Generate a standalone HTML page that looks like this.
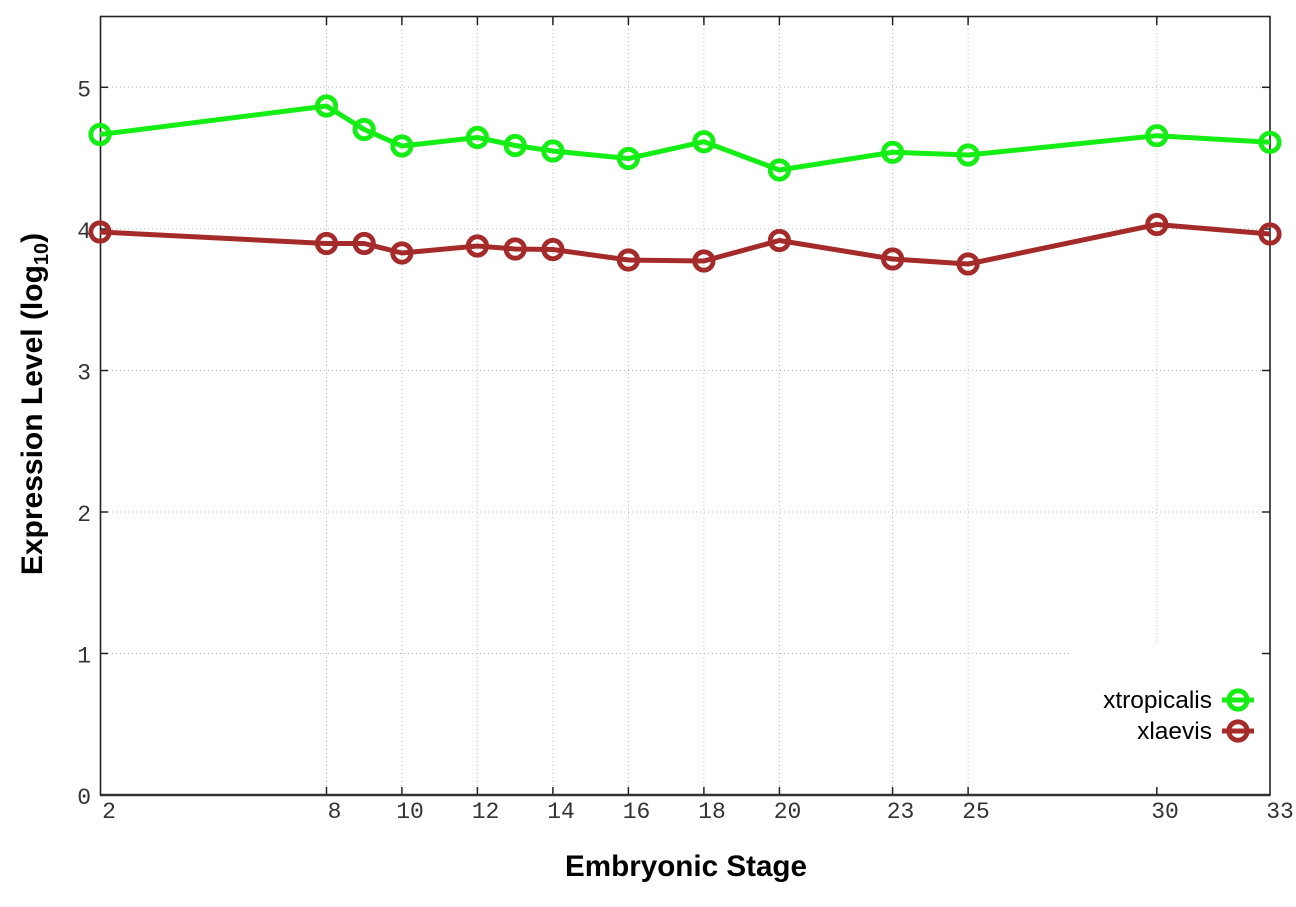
<!DOCTYPE html>
<html><head><meta charset="utf-8"><style>
html,body{margin:0;padding:0;background:#fff;}
svg{display:block;}
</style></head><body>
<svg width="1296" height="907" viewBox="0 0 1296 907" xmlns="http://www.w3.org/2000/svg">
<rect width="1296" height="907" fill="#fff"/>
<g stroke="#b8b8b8" stroke-width="1" stroke-dasharray="1,3" fill="none">
<line x1="100" y1="87.3" x2="1270" y2="87.3"/>
<line x1="100" y1="229" x2="1270" y2="229"/>
<line x1="100" y1="370.5" x2="1270" y2="370.5"/>
<line x1="100" y1="512" x2="1270" y2="512"/>
<line x1="100" y1="653.5" x2="1270" y2="653.5"/>
<line x1="326.5" y1="17" x2="326.5" y2="795"/>
<line x1="401.9" y1="17" x2="401.9" y2="795"/>
<line x1="477.4" y1="17" x2="477.4" y2="795"/>
<line x1="552.9" y1="17" x2="552.9" y2="795"/>
<line x1="628.4" y1="17" x2="628.4" y2="795"/>
<line x1="703.9" y1="17" x2="703.9" y2="795"/>
<line x1="779.4" y1="17" x2="779.4" y2="795"/>
<line x1="892.6" y1="17" x2="892.6" y2="795"/>
<line x1="968.1" y1="17" x2="968.1" y2="795"/>
<line x1="1156.8" y1="17" x2="1156.8" y2="795"/>
</g>
<rect x="1071" y="642" width="198" height="152" fill="#fff"/>
<g stroke="#222" stroke-width="1.5">
<line x1="100" y1="87.3" x2="108" y2="87.3"/><line x1="1262" y1="87.3" x2="1270" y2="87.3"/>
<line x1="100" y1="229" x2="108" y2="229"/><line x1="1262" y1="229" x2="1270" y2="229"/>
<line x1="100" y1="370.5" x2="108" y2="370.5"/><line x1="1262" y1="370.5" x2="1270" y2="370.5"/>
<line x1="100" y1="512" x2="108" y2="512"/><line x1="1262" y1="512" x2="1270" y2="512"/>
<line x1="100" y1="653.5" x2="108" y2="653.5"/><line x1="1262" y1="653.5" x2="1270" y2="653.5"/>
<line x1="326.5" y1="795" x2="326.5" y2="787"/><line x1="326.5" y1="17" x2="326.5" y2="25"/>
<line x1="401.9" y1="795" x2="401.9" y2="787"/><line x1="401.9" y1="17" x2="401.9" y2="25"/>
<line x1="477.4" y1="795" x2="477.4" y2="787"/><line x1="477.4" y1="17" x2="477.4" y2="25"/>
<line x1="552.9" y1="795" x2="552.9" y2="787"/><line x1="552.9" y1="17" x2="552.9" y2="25"/>
<line x1="628.4" y1="795" x2="628.4" y2="787"/><line x1="628.4" y1="17" x2="628.4" y2="25"/>
<line x1="703.9" y1="795" x2="703.9" y2="787"/><line x1="703.9" y1="17" x2="703.9" y2="25"/>
<line x1="779.4" y1="795" x2="779.4" y2="787"/><line x1="779.4" y1="17" x2="779.4" y2="25"/>
<line x1="892.6" y1="795" x2="892.6" y2="787"/><line x1="892.6" y1="17" x2="892.6" y2="25"/>
<line x1="968.1" y1="795" x2="968.1" y2="787"/><line x1="968.1" y1="17" x2="968.1" y2="25"/>
<line x1="1156.8" y1="795" x2="1156.8" y2="787"/><line x1="1156.8" y1="17" x2="1156.8" y2="25"/>
</g>
<rect x="100.5" y="16.5" width="1169.5" height="778.5" fill="none" stroke="#222" stroke-width="1.6"/>
<line x1="100" y1="795" x2="1270" y2="795" stroke="#333" stroke-width="2.5"/>
<g font-family="'Liberation Mono', monospace" font-size="23" fill="#333" text-anchor="end">
<text x="91" y="96.5">5</text>
<text x="91" y="238">4</text>
<text x="91" y="379.5">3</text>
<text x="91" y="521">2</text>
<text x="91" y="662.5">1</text>
<text x="91" y="804">0</text>
</g>
<g font-family="'Liberation Mono', monospace" font-size="23" fill="#333" text-anchor="middle">
<text x="109" y="818">2</text>
<text x="334.5" y="818">8</text>
<text x="410" y="818">10</text>
<text x="485.5" y="818">12</text>
<text x="561" y="818">14</text>
<text x="636.5" y="818">16</text>
<text x="712" y="818">18</text>
<text x="787.5" y="818">20</text>
<text x="900.5" y="818">23</text>
<text x="976" y="818">25</text>
<text x="1165" y="818">30</text>
<text x="1280" y="818">33</text>
</g>
<g fill="none" stroke-linejoin="round">
<polyline stroke="#14ee14" stroke-width="5" points="100,134.5 326.5,106 364.2,129.5 401.9,146 477.4,137.5 515.2,145.5 552.9,151 628.4,158.5 703.9,141.7 779.4,170 892.6,152.3 968.1,155 1156.8,135.7 1270,142.3"/>
<g stroke="#14ee14" stroke-width="4.8">
<circle cx="100" cy="134.5" r="9.2"/><circle cx="326.5" cy="106" r="9.2"/><circle cx="364.2" cy="129.5" r="9.2"/><circle cx="401.9" cy="146" r="9.2"/><circle cx="477.4" cy="137.5" r="9.2"/><circle cx="515.2" cy="145.5" r="9.2"/><circle cx="552.9" cy="151" r="9.2"/><circle cx="628.4" cy="158.5" r="9.2"/><circle cx="703.9" cy="141.7" r="9.2"/><circle cx="779.4" cy="170" r="9.2"/><circle cx="892.6" cy="152.3" r="9.2"/><circle cx="968.1" cy="155" r="9.2"/><circle cx="1156.8" cy="135.7" r="9.2"/><circle cx="1270" cy="142.3" r="9.2"/>
</g>
<polyline stroke="#a52a2a" stroke-width="5" points="100,232 326.5,243.5 364.2,243.5 401.9,253 477.4,246 515.2,249 552.9,249.5 628.4,260 703.9,261 779.4,240.5 892.6,259 968.1,264 1156.8,224.5 1270,234"/>
<g stroke="#a52a2a" stroke-width="4.8">
<circle cx="100" cy="232" r="9.2"/><circle cx="326.5" cy="243.5" r="9.2"/><circle cx="364.2" cy="243.5" r="9.2"/><circle cx="401.9" cy="253" r="9.2"/><circle cx="477.4" cy="246" r="9.2"/><circle cx="515.2" cy="249" r="9.2"/><circle cx="552.9" cy="249.5" r="9.2"/><circle cx="628.4" cy="260" r="9.2"/><circle cx="703.9" cy="261" r="9.2"/><circle cx="779.4" cy="240.5" r="9.2"/><circle cx="892.6" cy="259" r="9.2"/><circle cx="968.1" cy="264" r="9.2"/><circle cx="1156.8" cy="224.5" r="9.2"/><circle cx="1270" cy="234" r="9.2"/>
</g>
<line x1="1222" y1="700" x2="1254" y2="700" stroke="#14ee14" stroke-width="5"/>
<circle cx="1238" cy="700" r="9.2" stroke="#14ee14" stroke-width="4.8"/>
<line x1="1222" y1="731" x2="1254" y2="731" stroke="#a52a2a" stroke-width="5"/>
<circle cx="1238" cy="731" r="9.2" stroke="#a52a2a" stroke-width="4.8"/>
</g>
<g font-family="'Liberation Sans', sans-serif" font-size="24.5" fill="#000" text-anchor="end">
<text x="1212" y="708">xtropicalis</text>
<text x="1212" y="739">xlaevis</text>
</g>
<text x="565" y="876" font-family="'Liberation Sans', sans-serif" font-weight="bold" font-size="29.5" fill="#000" textLength="242" lengthAdjust="spacingAndGlyphs">Embryonic Stage</text>
<text transform="translate(42,404) rotate(-90)" font-family="'Liberation Sans', sans-serif" font-weight="bold" font-size="30" fill="#000" text-anchor="middle">Expression Level (log<tspan font-size="20" dy="6">10</tspan><tspan dy="-6">)</tspan></text>
</svg>
</body></html>
